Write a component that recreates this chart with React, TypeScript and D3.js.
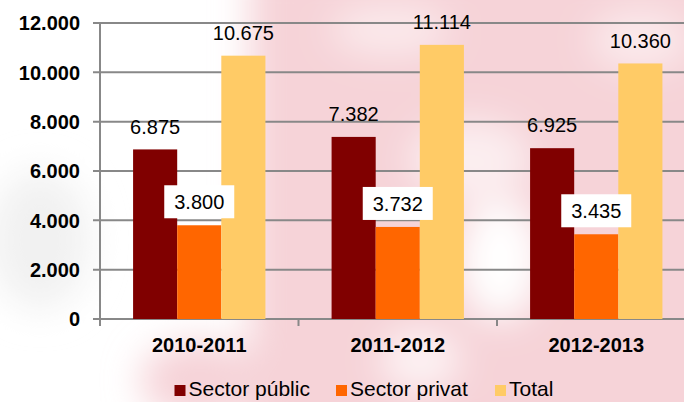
import React from "react";
import * as d3 from "d3";

const categories = ["2010-2011", "2011-2012", "2012-2013"];
const seriesNames = ["Sector públic", "Sector privat", "Total"];
const sectorPublic = [6875, 7382, 6925];
const sectorPrivat = [3800, 3732, 3435];
const total = [10675, 11114, 10360];
const yTicks = [0, 2000, 4000, 6000, 8000, 10000, 12000];
const colors = ["#800000", "#ff6600", "#ffcb66"];

const W = 684;
const H = 402;
const left = 100;
const right = 695.5;
const top = 23;
const bottom = 319;

const fmt = (v: number) => d3.format(",")(v).replace(/,/g, ".");

export default function App() {
  const x = d3.scaleBand<string>().domain(categories).range([left, right]).paddingInner(0).paddingOuter(0);
  const x1 = d3.scaleBand<string>().domain(seriesNames).range([0, x.bandwidth()]).paddingOuter(0.75).paddingInner(0);
  const y = d3.scaleLinear().domain([0, 12000]).range([bottom, top]);
  const series = [sectorPublic, sectorPrivat, total];
  const font = "'Liberation Sans', Arial, sans-serif";

  return (
    <div style={{ position: "absolute", left: 0, top: 0, width: W, height: H, overflow: "hidden" }}>
      <svg width={W} height={H} style={{ display: "block" }}>
        <defs>
          <filter id="blur" x="-50%" y="-50%" width="200%" height="200%">
            <feGaussianBlur stdDeviation="18" />
          </filter>
        </defs>
        <rect x={0} y={0} width={W} height={H} fill="#ffffff" />
        <g filter="url(#blur)">
          <rect x={250} y={-40} width={480} height={480} fill="#f6d3d8" />
          <ellipse cx={200} cy={380} rx={60} ry={40} fill="#f6d3d8" />
          <ellipse cx={390} cy={30} rx={60} ry={25} fill="#fbeaec" />
          <ellipse cx={470} cy={160} rx={60} ry={40} fill="#fbeef0" />
          <ellipse cx={500} cy={260} rx={40} ry={60} fill="#ffffff" />
          <ellipse cx={420} cy={360} rx={40} ry={30} fill="#fdf3f4" />
          <ellipse cx={640} cy={40} rx={50} ry={30} fill="#fbeaec" />
          <ellipse cx={40} cy={240} rx={50} ry={70} fill="#f1f1f1" />
        </g>

        {yTicks.map((t) => (
          <g key={t}>
            <line x1={93} x2={W} y1={y(t)} y2={y(t)} stroke="#888888" strokeWidth={2} />
            <text x={80} y={y(t)} dy="0.36em" textAnchor="end" fontFamily={font} fontWeight="bold" fontSize={20} fill="#000">
              {fmt(t)}
            </text>
          </g>
        ))}
        <line x1={left} x2={left} y1={top} y2={bottom + 7} stroke="#888888" strokeWidth={2} />
        {categories.map((c) => (
          <line key={"tk" + c} x1={x(c)!} x2={x(c)!} y1={bottom} y2={bottom + 7} stroke="#888888" strokeWidth={2} />
        ))}

        {categories.map((c, ci) => (
          <g key={c} transform={`translate(${x(c)},0)`}>
            {series.map((s, si) => (
              <rect
                key={si}
                x={x1(seriesNames[si])!}
                y={y(s[ci])}
                width={x1.bandwidth()}
                height={bottom - y(s[ci])}
                fill={colors[si]}
              />
            ))}
          </g>
        ))}

        {categories.map((c, ci) => (
          <g key={"lbl" + c} transform={`translate(${x(c)},0)`}>
            {series.map((s, si) => {
              const cx = x1(seriesNames[si])! + x1.bandwidth() / 2;
              const cy = y(s[ci]) - 23;
              return (
                <g key={si}>
                  {si === 1 && <rect x={cx - 35} y={cy - 17} width={70} height={33} fill="#ffffff" />}
                  <text x={cx} y={cy} dy="0.36em" textAnchor="middle" fontFamily={font} fontSize={20} fill="#000">
                    {fmt(s[ci])}
                  </text>
                </g>
              );
            })}
          </g>
        ))}

        {categories.map((c) => (
          <text key={"cat" + c} x={x(c)! + x.bandwidth() / 2} y={352} textAnchor="middle" fontFamily={font} fontWeight="bold" fontSize={20} fill="#000">
            {c}
          </text>
        ))}

        {[174.5, 336, 495].map((lx, i) => (
          <g key={"lg" + i}>
            <rect x={lx} y={385} width={11} height={11} fill={colors[i]} />
            <text x={lx + 14} y={396} fontFamily={font} fontSize={21} fill="#000">
              {seriesNames[i]}
            </text>
          </g>
        ))}
      </svg>
    </div>
  );
}
